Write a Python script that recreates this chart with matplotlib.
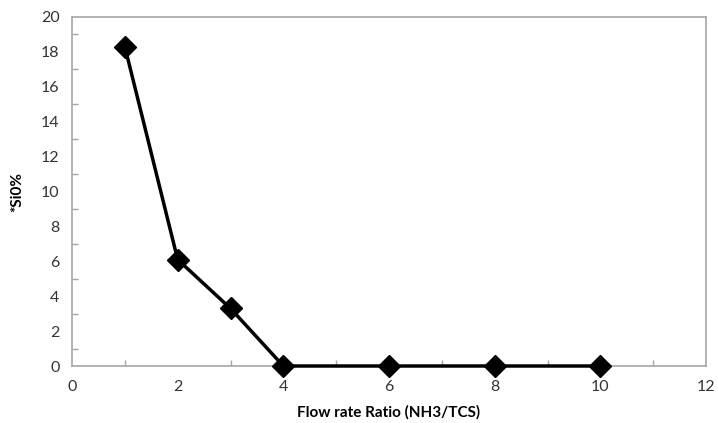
import matplotlib
matplotlib.use("Agg")
import matplotlib.pyplot as plt
from matplotlib.ticker import MultipleLocator

# flow rate ratio vs SiO content
ratio = [1, 2, 3, 4, 6, 8, 10]
sio_pct = [18.3, 6.1, 3.3, 0, 0, 0, 0]

plt.rcParams['font.family'] = ['Lato', 'DejaVu Sans']

fig = plt.figure(figsize=(7.18, 4.23), dpi=100)
ax = fig.add_axes([72/718, 1 - 366/423, (706-72)/718, (366-17)/423])

ax.plot(ratio, sio_pct, color='black', linewidth=2.5, marker='D',
        markersize=11, markerfacecolor='black', markeredgecolor='black',
        clip_on=False, zorder=5)

ax.set_xlim(0, 12)
ax.set_ylim(0, 20)
ax.xaxis.set_major_locator(MultipleLocator(2))
ax.yaxis.set_major_locator(MultipleLocator(2))
ax.xaxis.set_minor_locator(MultipleLocator(1))
ax.yaxis.set_minor_locator(MultipleLocator(1))

gray = '#a6a6a6'
for s in ax.spines.values():
    s.set_color(gray)
    s.set_linewidth(1.2)

ax.tick_params(which='major', length=0, pad=9, labelsize=11.5, labelcolor='#333333')
ax.tick_params(which='minor', direction='in', length=4, color=gray, width=1)
ax.tick_params(axis='x', which='major', pad=10)

ax.set_xlabel("Flow rate Ratio (NH3/TCS)", fontsize=11, fontweight='bold', labelpad=8)
ax.set_ylabel("*Si0%", fontsize=11, fontweight='bold', labelpad=12)

fig.savefig("out.png", dpi=100)
